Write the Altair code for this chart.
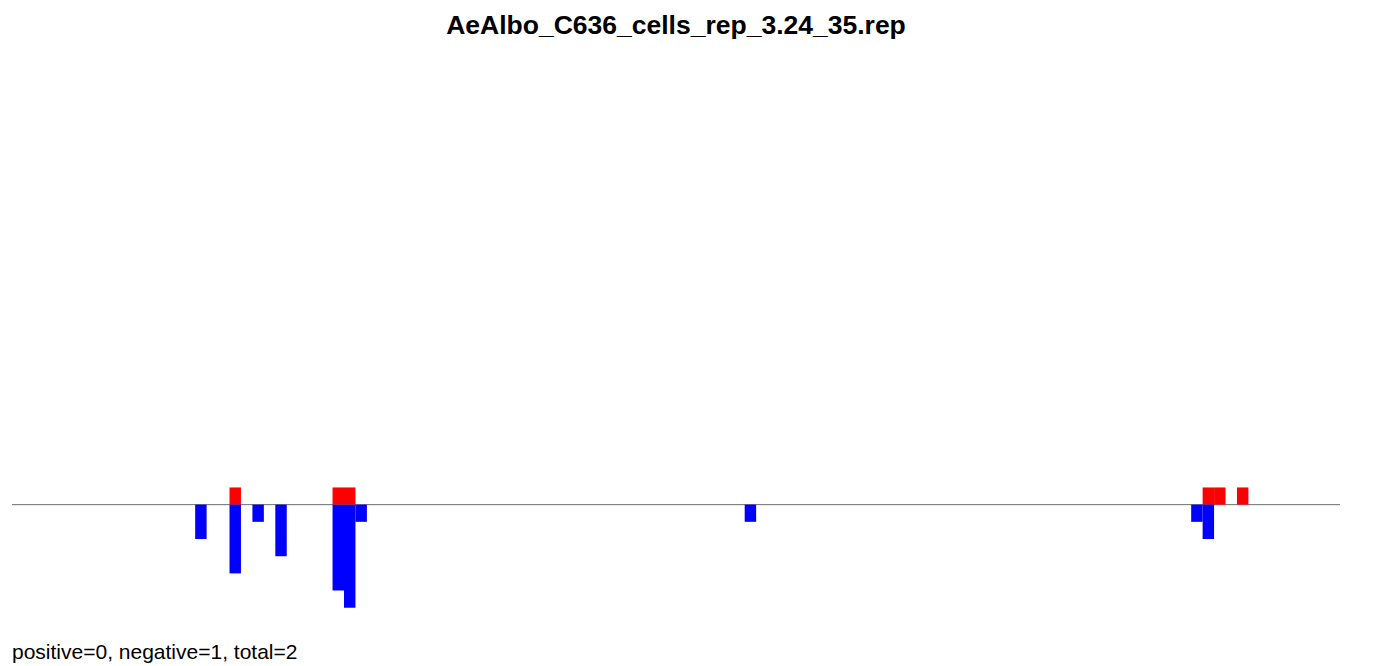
import altair as alt
import pandas as pd

# bin indices (x) and counts
pos_bins = [19, 28, 29, 104, 105, 107]
pos_vals = [1, 1, 1, 1, 1, 1]
neg_bins = [16, 19, 21, 23, 28, 29, 30, 64, 103, 104]
neg_vals = [2, 4, 1, 3, 5, 6, 1, 1, 1, 2]

title_text = "AeAlbo_C636_cells_rep_3.24_35.rep"
footer_text = "positive=0, negative=1, total=2"

x_domain = [0, 116]
y_domain = [-7, 24]

rows = []
for b, v in zip(pos_bins, pos_vals):
    rows.append({"start": b, "end": b + 1, "value": v, "kind": "positive"})
for b, v in zip(neg_bins, neg_vals):
    rows.append({"start": b, "end": b + 1, "value": -v, "kind": "negative"})
df = pd.DataFrame(rows)

W, H = 1328, 533

xs = alt.Scale(domain=x_domain, nice=False, zero=False)
ys = alt.Scale(domain=y_domain, nice=False, zero=False)

bars = alt.Chart(df).mark_bar(strokeWidth=0).encode(
    x=alt.X("start:Q", scale=xs, axis=None),
    x2="end:Q",
    y=alt.Y("value:Q", scale=ys, axis=None),
    y2=alt.datum(0),
    color=alt.Color("kind:N", scale=alt.Scale(domain=["positive", "negative"],
                                              range=["#ff0000", "#0000ff"]), legend=None),
)

line_df = pd.DataFrame({"x0": [x_domain[0]], "x1": [x_domain[1]], "y": [0]})
rule = alt.Chart(line_df).mark_rule(color="#6e6e6e", strokeWidth=1).encode(
    x=alt.X("x0:Q", scale=xs, axis=None),
    x2="x1:Q",
    y=alt.Y("y:Q", scale=ys, axis=None),
)

title = alt.Chart(pd.DataFrame({"t": [title_text]})).mark_text(
    font="Liberation Sans", fontSize=26.5, fontWeight="bold", align="center",
    baseline="alphabetic", color="black"
).encode(text="t:N", x=alt.value(W / 2), y=alt.value(-58))

footer = alt.Chart(pd.DataFrame({"t": [footer_text]})).mark_text(
    font="Liberation Sans", fontSize=21, align="left",
    baseline="alphabetic", color="black"
).encode(text="t:N", x=alt.value(0), y=alt.value(566.5))

chart = alt.layer(rule, bars, title, footer).properties(
    width=W, height=H,
    autosize=alt.AutoSizeParams(type="none"),
    padding={"left": 4, "top": 84, "right": 40, "bottom": 41},
    background="white",
).configure_view(strokeWidth=0, stroke="transparent")

chart.save("out.html", embed_options={"renderer": "svg", "actions": False})
